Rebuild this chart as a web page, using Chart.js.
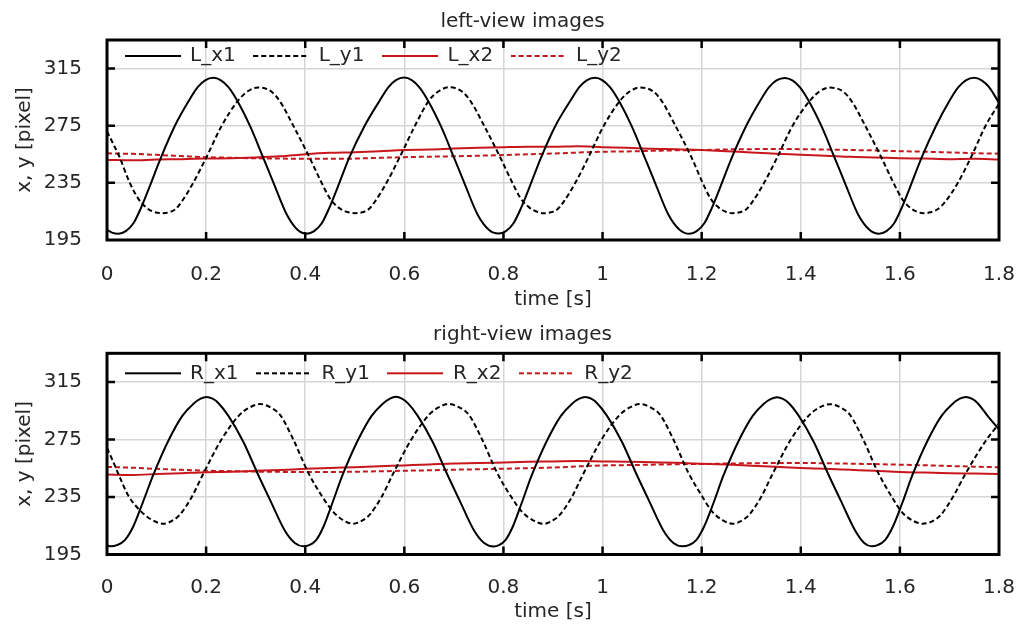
<!DOCTYPE html>
<html><head><meta charset="utf-8">
<script src="https://cdn.jsdelivr.net/npm/chart.js@4/dist/chart.umd.min.js"></script>
<style>
html,body{margin:0;padding:0;background:#fff;width:1018px;height:624px;overflow:hidden}
canvas{position:absolute;left:0}
#c1{top:0} #c2{top:312px}
</style></head><body>
<canvas id="c1" width="1018" height="312"></canvas>
<canvas id="c2" width="1018" height="312"></canvas>
<script>
// ---------- tick labels ----------
const xTickVals = [0, 0.2, 0.4, 0.6, 0.8, 1.0, 1.2, 1.4, 1.6, 1.8];
const yTickVals = [195, 235, 275, 315];

// ---------- left-view images ----------
const tLx1 = [0, 0.010, 0.023,
  0.038, 0.053, 0.068, 0.085, 0.108, 0.137, 0.166, 0.183, 0.198, 0.2146,
  0.230, 0.245, 0.262, 0.289, 0.316, 0.336, 0.363, 0.385, 0.403,
  0.418, 0.433, 0.448, 0.465, 0.488, 0.520, 0.551, 0.568, 0.583, 0.600,
  0.615, 0.630, 0.647, 0.674, 0.701, 0.721, 0.748, 0.771, 0.790,
  0.805, 0.820, 0.835, 0.852, 0.875, 0.905, 0.936, 0.953, 0.968, 0.985,
  1.000, 1.015, 1.032, 1.059, 1.086, 1.106, 1.133, 1.156, 1.175,
  1.190, 1.205, 1.220, 1.237, 1.260, 1.290, 1.319, 1.336, 1.351, 1.368,
  1.383, 1.398, 1.415, 1.442, 1.469, 1.489, 1.516, 1.539, 1.558,
  1.573, 1.588, 1.603, 1.620, 1.643, 1.673, 1.701, 1.718, 1.733, 1.750,
  1.765, 1.780, 1.800];
const Lx1 = [202.2, 200.2, 199.4,
  201.2, 206.5, 217, 231.5, 252, 275, 293, 302, 306.8, 308.5,
  306.8, 302, 293, 274.5, 252, 235, 212.7, 202, 199.4,
  201.2, 206.5, 217, 231.5, 252, 275, 293, 302, 306.9, 308.7,
  306.9, 302, 293, 274.5, 252, 235, 212.7, 202, 199.5,
  201.2, 206.5, 217, 231.5, 252, 275, 293, 302, 306.8, 308.5,
  306.8, 302, 293, 274.5, 252, 235, 212.7, 202, 199.3,
  201.2, 206.5, 217, 231.5, 252, 275, 293, 302, 306.7, 308.4,
  306.7, 302, 293, 274.5, 252, 235, 212.7, 202, 199.4,
  201.2, 206.5, 217, 231.5, 252, 275, 293, 302, 306.8, 308.6,
  306.8, 302, 291];

const tLy1 = [0, 0.013, 0.026, 0.044, 0.063, 0.080, 0.095, 0.110,
  0.125, 0.138, 0.151, 0.174, 0.200, 0.2315, 0.265, 0.285, 0.305,
  0.332, 0.349, 0.376, 0.409, 0.431, 0.450, 0.468, 0.485, 0.500,
  0.515, 0.528, 0.541, 0.564, 0.590, 0.6215, 0.650, 0.670, 0.690,
  0.717, 0.734, 0.761, 0.794, 0.816, 0.835, 0.853, 0.869, 0.881,
  0.896, 0.909, 0.922, 0.945, 0.971, 1.0025, 1.036, 1.056, 1.076,
  1.103, 1.120, 1.147, 1.180, 1.200, 1.218, 1.235, 1.250, 1.262,
  1.277, 1.290, 1.303, 1.326, 1.352, 1.3835, 1.419, 1.439, 1.459,
  1.486, 1.503, 1.530, 1.563, 1.585, 1.604, 1.621, 1.636, 1.647,
  1.662, 1.676, 1.692, 1.717, 1.743, 1.773, 1.800];
const Ly1 = [271, 262, 252.5, 236.5, 224, 217.5, 214.6, 213.8,
  214.4, 216.5, 222, 235, 252.5, 275, 292.8, 299.3, 301.8,
  298.8, 292, 275, 252.5, 236.5, 224, 217.5, 214.6, 213.8,
  214.4, 216.5, 222, 235, 252.5, 275, 292.8, 299.3, 301.9,
  298.8, 292, 275, 252.5, 236.5, 224, 217.5, 214.6, 213.7,
  214.4, 216.5, 222, 235, 252.5, 275, 292.8, 299.3, 301.8,
  298.8, 292, 275, 252.5, 236.5, 224, 217.5, 214.6, 213.8,
  214.4, 216.5, 222, 235, 252.5, 275, 292.8, 299.3, 301.7,
  298.8, 292, 275, 252.5, 236.5, 224, 217.5, 214.6, 213.8,
  214.4, 216.5, 222, 235, 252.5, 275, 290.5];

const tRed = [0, 0.05, 0.1, 0.15, 0.2, 0.25, 0.3, 0.35, 0.4, 0.45, 0.5, 0.55, 0.6, 0.65, 0.7, 0.75,
  0.8, 0.85, 0.9, 0.95, 1.0, 1.05, 1.1, 1.15, 1.2, 1.25, 1.3, 1.35, 1.4, 1.45, 1.5, 1.55,
  1.6, 1.65, 1.7, 1.75, 1.8];
const Lx2 = [251.0, 250.8, 251.3, 251.6, 252.0, 252.3, 252.8, 253.6, 255.0, 256.0, 256.5, 257.2,
  258.0, 258.3, 259.0, 259.6, 260.0, 260.3, 260.2, 260.6, 260.0, 259.5, 258.8, 258.6,
  258.0, 257.2, 256.2, 255.4, 254.6, 254.0, 253.2, 252.8, 252.3, 252.0, 251.6, 251.8, 251.4];
const Ly2 = [255.7, 255.3, 254.6, 253.8, 253.0, 252.6, 252.2, 252.0, 251.8, 251.8, 252.0, 252.5,
  253.0, 253.3, 253.6, 254.0, 254.5, 255.0, 255.5, 256.2, 256.8, 257.0, 257.4, 257.8,
  258.0, 258.4, 258.6, 258.7, 258.6, 258.3, 258.0, 257.7, 257.2, 256.8, 256.3, 255.8, 255.4];

// ---------- right-view images ----------
const tRx1 = [0, 0.008,
  0.020, 0.036, 0.053, 0.072, 0.093, 0.125, 0.152, 0.174, 0.189, 0.201,
  0.213, 0.225, 0.245, 0.275, 0.305, 0.329, 0.359, 0.379, 0.396,
  0.408, 0.422, 0.437, 0.455, 0.475, 0.507, 0.534, 0.556, 0.571, 0.583,
  0.595, 0.607, 0.627, 0.657, 0.687, 0.711, 0.741, 0.761, 0.780,
  0.791, 0.804, 0.819, 0.837, 0.857, 0.889, 0.916, 0.938, 0.953, 0.965,
  0.977, 0.989, 1.009, 1.039, 1.069, 1.093, 1.123, 1.143, 1.162,
  1.174, 1.189, 1.205, 1.224, 1.244, 1.276, 1.303, 1.325, 1.340, 1.352,
  1.364, 1.376, 1.396, 1.426, 1.456, 1.480, 1.510, 1.528, 1.543,
  1.555, 1.570, 1.586, 1.605, 1.625, 1.657, 1.684, 1.706, 1.721, 1.733,
  1.745, 1.757, 1.777, 1.800];
const Rx1 = [201.4, 200.7,
  201.5, 205, 214.5, 231, 250, 275, 291.5, 299.8, 303.4, 304.6,
  303.4, 300.3, 291.5, 273.5, 250.5, 233, 211.5, 203, 200.7,
  201.5, 205, 214.5, 231, 250, 275, 291.5, 299.8, 303.5, 304.7,
  303.5, 300.3, 291.5, 273.5, 250.5, 233, 211.5, 203, 200.6,
  201.5, 205, 214.5, 231, 250, 275, 291.5, 299.8, 303.4, 304.6,
  303.4, 300.3, 291.5, 273.5, 250.5, 233, 211.5, 203, 200.7,
  201.5, 205, 214.5, 231, 250, 275, 291.5, 299.8, 303.3, 304.5,
  303.3, 300.3, 291.5, 273.5, 250.5, 233, 211.5, 203, 200.7,
  201.5, 205, 214.5, 231, 250, 275, 291.5, 299.8, 303.4, 304.6,
  303.4, 300.3, 291.5, 282];

const tRy1 = [0, 0.012, 0.023, 0.043, 0.070, 0.091, 0.114,
  0.135, 0.147, 0.171, 0.194, 0.231, 0.268, 0.289, 0.309,
  0.329, 0.349, 0.376, 0.406, 0.433, 0.457, 0.476, 0.497,
  0.518, 0.530, 0.554, 0.577, 0.614, 0.650, 0.670, 0.690,
  0.710, 0.730, 0.757, 0.787, 0.814, 0.838, 0.859, 0.881,
  0.902, 0.914, 0.938, 0.961, 0.998, 1.035, 1.056, 1.076,
  1.096, 1.116, 1.143, 1.173, 1.200, 1.222, 1.242, 1.263,
  1.284, 1.296, 1.320, 1.343, 1.380, 1.418, 1.439, 1.459,
  1.479, 1.499, 1.526, 1.556, 1.582, 1.604, 1.624, 1.646,
  1.671, 1.683, 1.707, 1.732, 1.775, 1.800];
const Ry1 = [269.1, 260, 251, 236, 224.5, 219, 216.4,
  219.2, 222.7, 235, 251, 275, 292.3, 297.5, 299.7,
  297.5, 292.3, 275, 252, 236, 224.5, 219, 216.4,
  219.2, 222.7, 235, 251, 275, 292.3, 297.5, 299.8,
  297.5, 292.3, 275, 252, 236, 224.5, 219, 216.3,
  219.2, 222.7, 235, 251, 275, 292.3, 297.5, 299.7,
  297.5, 292.3, 275, 252, 236, 224.5, 219, 216.4,
  219.2, 222.7, 235, 251, 275, 292.3, 297.5, 299.6,
  297.5, 292.3, 275, 252, 236, 224.5, 219, 216.4,
  219.2, 222.7, 235, 251, 275, 286];

const Rx2 = [250.6, 250.4, 251.0, 251.6, 252.3, 252.6, 253.2, 253.8, 254.6, 255.2, 255.8, 256.4,
  257.0, 257.6, 258.3, 258.6, 259.1, 259.6, 259.8, 260.0, 259.8, 259.6, 259.2, 258.8,
  258.2, 257.6, 256.8, 256.0, 255.2, 254.6, 253.9, 253.2, 252.4, 252.0, 251.6, 251.3, 251.0];
const Ry2 = [255.9, 255.4, 254.6, 253.9, 253.3, 253.0, 252.7, 252.5, 252.4, 252.4, 252.6, 252.9,
  253.3, 253.6, 254.0, 254.3, 254.7, 255.1, 255.5, 256.3, 257.0, 257.2, 257.5, 257.8,
  258.0, 258.3, 258.5, 258.7, 258.7, 258.5, 258.2, 257.9, 257.5, 257.1, 256.6, 256.1, 255.7];

// ---------- rendering ----------
const FONT = '"DejaVu Sans", sans-serif';
const FS = 20;
const TXT = '#262626';
const RED = '#c8161d';
const pts = (t, v) => t.map((x, i) => ({x: x, y: v[i]}));

// legend line sample (solid or dashed), used as the legend point style
function legendSample(color, dash) {
  const c = document.createElement('canvas');
  c.width = 56; c.height = 4;
  const g = c.getContext('2d');
  g.strokeStyle = color; g.lineWidth = 2; g.setLineDash(dash);
  g.beginPath(); g.moveTo(0, 2); g.lineTo(56, 2); g.stroke();
  return c;
}

function ds(label, t, v, color, dash) {
  return {label, data: pts(t, v), borderColor: color, backgroundColor: color,
    borderWidth: 2, borderDash: dash, pointRadius: 0, pointHoverRadius: 0,
    pointStyle: legendSample(color, dash),
    cubicInterpolationMode: 'monotone', fill: false};
}

function framePlugin(legendShift, titleShift) {
  return {
    id: 'frame',
    afterLayout(chart) {
      const lg = chart.legend;
      if (lg) { lg.top += legendShift; lg.height = 44; lg.bottom = lg.top + 44; }
      const tb = chart.titleBlock;
      if (tb) { tb.left += titleShift; tb.right += titleShift; }
    },
    afterDatasetsDraw(chart) {
      const {ctx, chartArea: a, scales: {x, y}} = chart;
      ctx.save();
      ctx.strokeStyle = '#000';
      ctx.lineWidth = 2.5;
      ctx.setLineDash([]);
      ctx.beginPath();
      xTickVals.slice(1, -1).forEach(v => {
        const px = x.getPixelForValue(v);
        ctx.moveTo(px, a.bottom); ctx.lineTo(px, a.bottom - 8);
        ctx.moveTo(px, a.top); ctx.lineTo(px, a.top + 8);
      });
      yTickVals.slice(1).forEach(v => {
        const py = y.getPixelForValue(v);
        ctx.moveTo(a.left, py); ctx.lineTo(a.left + 8, py);
        ctx.moveTo(a.right, py); ctx.lineTo(a.right - 8, py);
      });
      ctx.stroke();
      ctx.lineWidth = 3;
      ctx.strokeRect(a.left, a.top, a.right - a.left, a.bottom - a.top);
      ctx.restore();
    }
  };
}

function makeChart(id, title, datasets, g) {
  new Chart(document.getElementById(id), {
    type: 'line',
    data: {datasets},
    options: {
      responsive: false,
      animation: false,
      events: [],
      layout: {padding: {left: 0, right: 19, top: 0, bottom: 0}},
      plugins: {
        title: {display: true, text: title, color: TXT,
          font: {family: FONT, size: FS, weight: 'normal'},
          padding: {top: g.titleTop, bottom: g.titleBottom}},
        legend: {position: 'top', align: 'start', fullSize: false, maxHeight: 0.01,
          labels: {usePointStyle: true, pointStyleWidth: 55, boxWidth: 55,
            padding: 18, color: TXT, font: {family: FONT, size: FS}}},
        tooltip: {enabled: false}
      },
      scales: {
        x: {type: 'linear', min: 0, max: 1.8,
          afterBuildTicks: s => { s.ticks = xTickVals.map(v => ({value: v})); },
          afterFit: s => { s.height = g.xH; s.paddingLeft = 0; s.paddingRight = 0; },
          grid: {color: '#d6d6d6', lineWidth: 1.5, drawTicks: false},
          border: {display: false},
          ticks: {padding: g.xPad, color: TXT, maxRotation: 0, autoSkip: false,
            font: {family: FONT, size: FS},
            callback: v => String(Math.round(v * 10) / 10)},
          title: {display: true, text: 'time [s]', color: TXT,
            font: {family: FONT, size: FS}, padding: {top: 0, bottom: 0}}
        },
        y: {type: 'linear', min: 195, max: 335,
          afterBuildTicks: s => { s.ticks = yTickVals.map(v => ({value: v})); },
          afterFit: s => { s.width = 107; s.paddingTop = 0; s.paddingBottom = 0; },
          grid: {color: '#d6d6d6', lineWidth: 1.5, drawTicks: false},
          border: {display: false},
          ticks: {padding: 25, color: TXT, font: {family: FONT, size: FS}},
          title: {display: true, text: 'x, y [pixel]', color: TXT,
            font: {family: FONT, size: FS}, padding: {top: 13, bottom: 0}}
        }
      }
    },
    plugins: [framePlugin(g.legendShift, 23)]
  });
}

makeChart('c1', 'left-view images', [
  ds('L_x1', tLx1, Lx1, '#000', []),
  ds('L_y1', tLy1, Ly1, '#000', [5, 3]),
  ds('L_x2', tRed, Lx2, RED, []),
  ds('L_y2', tRed, Ly2, RED, [5, 3])
], {titleTop: 10, titleBottom: 6, xH: 72, xPad: 23, legendShift: -12});

makeChart('c2', 'right-view images', [
  ds('R_x1', tRx1, Rx1, '#000', []),
  ds('R_y1', tRy1, Ry1, '#000', [5, 3]),
  ds('R_x2', tRed, Rx2, RED, []),
  ds('R_y2', tRed, Ry2, RED, [5, 3])
], {titleTop: 11, titleBottom: 6.3, xH: 69.5, xPad: 21.5, legendShift: -8});
</script>
</body></html>
